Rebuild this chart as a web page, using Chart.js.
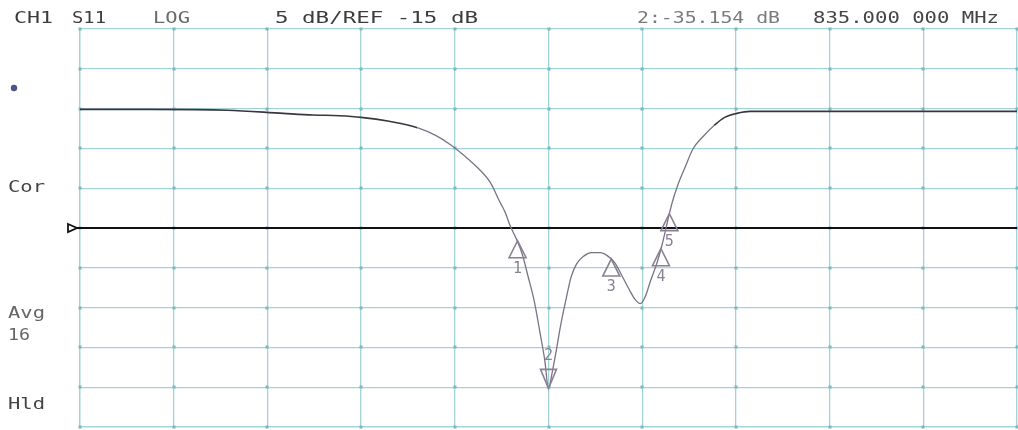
<!DOCTYPE html>
<html>
<head>
<meta charset="utf-8">
<script src="https://cdn.jsdelivr.net/npm/chart.js@4.4.1/dist/chart.umd.min.js"></script>
<style>
  html, body { margin:0; padding:0; background:#fff; }
  canvas { display:block; }
</style>
</head>
<body>
<canvas id="s11" width="1018" height="430"></canvas>
<script>
// trace (MHz, dB)
const freqMHz = [785.0, 792.5, 800.7, 806.7, 809.9, 812.7, 815.0, 818.0, 821.0, 823.0, 824.5, 826.0,
    827.5, 828.8, 829.8, 830.4, 830.9, 831.5, 832.2, 832.8, 833.5, 834.1, 834.6, 835.0,
    835.4, 835.8, 836.3, 836.9, 837.4, 838.0, 838.8, 839.6, 840.5, 841.3, 842.1, 842.8, 843.6,
    844.2, 844.8, 845.3, 845.9, 846.6, 847.1, 847.7, 848.2, 848.8, 849.6, 850.4, 851.5, 852.7,
    853.8, 855.1, 856.5, 870.0, 885.0];
const s11dB = [-0.1, -0.1, -0.2, -0.6, -0.8, -0.9, -1.1, -1.6, -2.4, -3.4, -4.5, -5.9,
    -7.5, -9.3, -11.7, -13.1, -14.7, -16.2, -18.3, -21.0, -24.3, -28.2, -31.6, -35.15,
    -33.1, -30.6, -27.2, -23.8, -21.2, -19.5, -18.5, -18.1, -18.1, -18.5, -19.4, -20.9, -22.7,
    -23.9, -24.5, -23.7, -21.6, -19.3, -17.2, -14.2, -11.8, -9.6, -7.3, -5.1, -3.5, -2.1,
    -1.1, -0.6, -0.35, -0.35, -0.35];

const markerLabels = ['1', '2', '3', '4', '5'];
const markerFreqs = [831.7, 835.0, 841.7, 847.0, 847.9];
const markerDb = [-16.6, -35.15, -18.9, -17.6, -13.2];
const activeMarker = 1;

const refLevel = -15;
const dbPerDiv = 5;
const startMHz = 785, stopMHz = 885, mhzPerDiv = 10;

const headerTexts = ['CH1', 'S11', 'LOG', '5 dB/REF -15 dB', '2:-35.154 dB', '835.000 000 MHz'];
const sideTexts = ['Cor', 'Avg', '16', 'Hld'];

const gridColor = '#a3d2d8';
const traceColor = '#3a353e';
const slopeColor = '#7b7285';
const markerColor = '#8a8094';

// draws a string starting at x, stretched sideways to a given width like the plotter font
function wideText(ctx, text, x, y, width) {
    let w = ctx.measureText(text).width;
    ctx.save();
    ctx.translate(x, y);
    ctx.scale(width / w, 1);
    ctx.fillText(text, 0, 0);
    ctx.restore();
}

const decorPlugin = {
    id: 'decor',
    beforeDatasetsDraw(chart) {
        let ctx = chart.ctx;
        let x = chart.scales.x, y = chart.scales.y;
        // dots on grid crossings
        ctx.save();
        ctx.fillStyle = '#7db8c1';
        for (let f = startMHz; f <= stopMHz + 0.01; f += mhzPerDiv) {
            for (let d = y.max; d >= y.min - 0.01; d -= dbPerDiv) {
                ctx.fillRect(Math.round(x.getPixelForValue(f)) - 1.5, Math.round(y.getPixelForValue(d)) - 1.5, 3, 3);
            }
        }
        // reference line + arrow
        let ry = y.getPixelForValue(refLevel);
        ctx.strokeStyle = '#111';
        ctx.lineWidth = 2;
        ctx.beginPath();
        ctx.moveTo(chart.chartArea.left - 3, ry);
        ctx.lineTo(chart.chartArea.right, ry);
        ctx.stroke();
        ctx.lineWidth = 1.8;
        ctx.beginPath();
        ctx.moveTo(68, ry - 4);
        ctx.lineTo(77, ry);
        ctx.lineTo(68, ry + 4);
        ctx.closePath();
        ctx.stroke();
        ctx.restore();
    },
    afterDatasetsDraw(chart) {
        let ctx = chart.ctx;
        let x = chart.scales.x, y = chart.scales.y;
        ctx.save();
        ctx.strokeStyle = markerColor;
        ctx.fillStyle = markerColor;
        ctx.lineWidth = 1.6;
        ctx.font = '15px "DejaVu Sans Mono"';
        ctx.textAlign = 'center';
        ctx.textBaseline = 'middle';
        markerFreqs.forEach((f, i) => {
            let px = x.getPixelForValue(f), py = y.getPixelForValue(markerDb[i]);
            ctx.beginPath();
            if (i === activeMarker) {
                ctx.moveTo(px, py);
                ctx.lineTo(px - 8, py - 19);
                ctx.lineTo(px + 8, py - 19);
                ctx.closePath();
                ctx.stroke();
                ctx.fillText(markerLabels[i], px, py - 32);
            } else {
                ctx.moveTo(px, py);
                ctx.lineTo(px - 8.5, py + 17);
                ctx.lineTo(px + 8.5, py + 17);
                ctx.closePath();
                ctx.stroke();
                ctx.fillText(markerLabels[i], px, py + 28);
            }
        });
        ctx.restore();

        // annotation text
        ctx.save();
        ctx.font = '16px "DejaVu Sans Mono"';
        ctx.textAlign = 'left';
        ctx.textBaseline = 'alphabetic';
        ctx.fillStyle = '#3c3c3c';
        wideText(ctx, headerTexts[0], 14, 23, 39);
        wideText(ctx, headerTexts[1], 72, 23, 34);
        ctx.fillStyle = '#6a6a6a';
        wideText(ctx, headerTexts[2], 153, 23, 37);
        ctx.fillStyle = '#3c3c3c';
        wideText(ctx, headerTexts[3], 275, 23, 203);
        ctx.fillStyle = '#7a7a7a';
        wideText(ctx, headerTexts[4], 637, 23, 143);
        ctx.fillStyle = '#444';
        wideText(ctx, headerTexts[5], 813, 23, 186);

        ctx.fillStyle = '#444';
        wideText(ctx, sideTexts[0], 8, 192, 37);
        ctx.fillStyle = '#666';
        wideText(ctx, sideTexts[1], 8, 318, 37);
        wideText(ctx, sideTexts[2], 8, 340, 22);
        ctx.fillStyle = '#444';
        wideText(ctx, sideTexts[3], 8, 409, 37);

        ctx.fillStyle = '#4a5585';
        ctx.beginPath();
        ctx.arc(14, 88, 3.2, 0, Math.PI * 2);
        ctx.fill();
        ctx.restore();
    }
};

window.addEventListener("load", () => {
    let s11 = document.getElementById("s11").getContext("2d");

    let trace = new Chart(s11, {
        type: 'line',
        data: {
            datasets: [{
                label: 'S11',
                data: freqMHz.map((f, i) => ({ x: f, y: s11dB[i] })),
                borderColor: traceColor,
                borderWidth: 1.6,
                pointRadius: 0,
                cubicInterpolationMode: 'monotone',
                fill: false,
                segment: {
                    // the plotter drew the steep part lighter than the flat part
                    borderColor: c => (c.p0.parsed.y < -2.5 || c.p1.parsed.y < -2.5) ? slopeColor : undefined,
                    borderWidth: c => (c.p0.parsed.y < -2.5 || c.p1.parsed.y < -2.5) ? 1.3 : undefined
                }
            }]
        },
        options: {
            responsive: false,
            animation: false,
            devicePixelRatio: 1,
            layout: { padding: { left: 80, top: 29, right: 1, bottom: 3 } },
            plugins: {
                legend: { display: false },
                tooltip: { enabled: false }
            },
            scales: {
                x: {
                    type: 'linear',
                    min: startMHz,
                    max: stopMHz,
                    ticks: { display: false, stepSize: mhzPerDiv },
                    grid: { color: gridColor, lineWidth: 1.3, drawTicks: false },
                    border: { color: gridColor, width: 1.3 }
                },
                y: {
                    min: refLevel - 5 * dbPerDiv,
                    max: refLevel + 5 * dbPerDiv,
                    ticks: { display: false, stepSize: dbPerDiv },
                    grid: { color: gridColor, lineWidth: 1.3, drawTicks: false },
                    border: { color: gridColor, width: 1.3 }
                }
            }
        },
        plugins: [decorPlugin]
    });
});
</script>
</body>
</html>
